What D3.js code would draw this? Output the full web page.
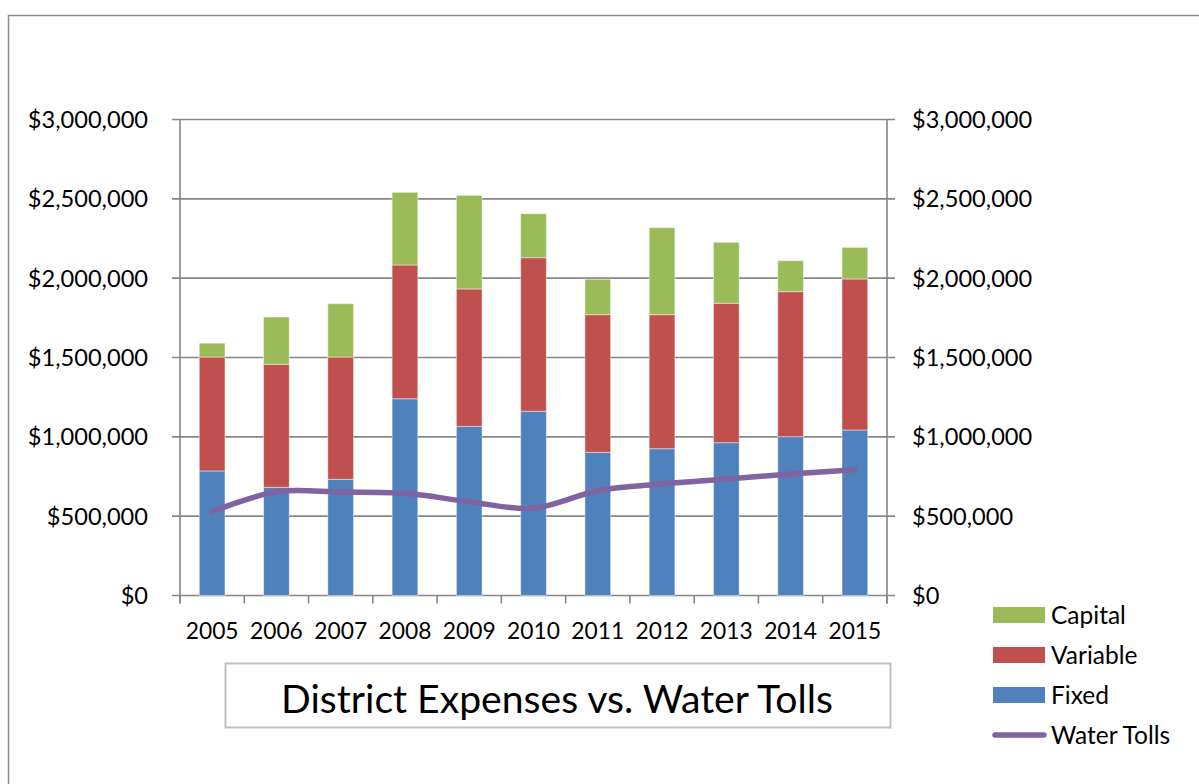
<!DOCTYPE html>
<html>
<head>
<meta charset="utf-8">
<script src="https://cdn.jsdelivr.net/npm/d3@7"></script>
<style>
  html, body { margin: 0; padding: 0; background: #ffffff; }
  svg { display: block; }
  text { font-family: Lato, "Open Sans", sans-serif; fill: #000; }
</style>
</head>
<body>
<svg id="chart" width="1199" height="784"></svg>
<script>
const years = ["2005","2006","2007","2008","2009","2010","2011","2012","2013","2014","2015"];
const fixed    = [785000, 682000, 732000, 1240000, 1066000, 1161000, 902000, 925000, 963000, 1001000, 1043000];
const variable = [718000, 775000, 771000, 843000, 866000, 968000, 868000, 845000, 879000, 914000, 952000];
const capital  = [87000, 298000, 336000, 458000, 590000, 277000, 223000, 548000, 384000, 195000, 199000];
const waterTolls = [528000, 654000, 652000, 644000, 591000, 550000, 660000, 703000, 734000, 766000, 793000];
const yTicks = [0, 500000, 1000000, 1500000, 2000000, 2500000, 3000000];
const seriesNames = ["Fixed", "Variable", "Capital"];
const legendNames = ["Capital", "Variable", "Fixed", "Water Tolls"];
const chartTitle = "District Expenses vs. Water Tolls";

const colors = { Fixed: "#4F81BD", Variable: "#C0504D", Capital: "#9BBB59", "Water Tolls": "#8064A2" };
const axisColor = "#868686";

const svg = d3.select("#chart");

// outer chart-area border
svg.append("rect").attr("x", 8.5).attr("y", 15.5).attr("width", 1300).attr("height", 900)
  .attr("fill", "none").attr("stroke", "#8c8c8c").attr("stroke-width", 1.5);

const plot = { left: 180, right: 887, top: 119.5, bottom: 595.5 };

const xCat = d3.scaleBand().domain(years).range([plot.left, plot.right]);
const y = d3.scaleLinear().domain([0, 3000000]).range([plot.bottom, plot.top]);

const fmt = v => "$" + d3.format(",")(v);

// gridlines (extend as outward ticks on both sides)
svg.append("g").selectAll("line").data(yTicks).join("line")
  .attr("x1", plot.left - 8).attr("x2", plot.right + 8)
  .attr("y1", d => y(d)).attr("y2", d => y(d))
  .attr("stroke", axisColor).attr("stroke-width", 1.6);

// stacked bars
const rows = years.map((yr, i) => ({ year: yr, Fixed: fixed[i], Variable: variable[i], Capital: capital[i] }));
const stack = d3.stack().keys(seriesNames)(rows);
const barW = 25.7;
svg.append("g").selectAll("g").data(stack).join("g")
  .attr("fill", d => colors[d.key])
  .selectAll("rect").data(d => d).join("rect")
  .attr("x", d => xCat(d.data.year) + xCat.bandwidth() / 2 - barW / 2)
  .attr("width", barW)
  .attr("y", d => y(d[1]))
  .attr("height", d => y(d[0]) - y(d[1]))
  .attr("stroke", "#ffffff").attr("stroke-opacity", 0.45).attr("stroke-width", 1);

// axes lines
svg.append("line").attr("x1", plot.left).attr("x2", plot.left).attr("y1", plot.top).attr("y2", plot.bottom + 8)
  .attr("stroke", axisColor).attr("stroke-width", 1.6);
svg.append("line").attr("x1", plot.right).attr("x2", plot.right).attr("y1", plot.top).attr("y2", plot.bottom + 8)
  .attr("stroke", axisColor).attr("stroke-width", 1.6);

// x axis category boundary ticks
const bounds = years.map(d => xCat(d)).concat([plot.right]);
svg.append("g").selectAll("line").data(bounds).join("line")
  .attr("x1", d => d).attr("x2", d => d)
  .attr("y1", plot.bottom).attr("y2", plot.bottom + 8)
  .attr("stroke", axisColor).attr("stroke-width", 1.6);

// y labels left & right
svg.append("g").selectAll("text").data(yTicks).join("text")
  .attr("x", 148).attr("y", d => y(d)).attr("dy", "0.36em")
  .attr("text-anchor", "end").attr("font-size", 23.6).text(fmt);
svg.append("g").selectAll("text").data(yTicks).join("text")
  .attr("x", 912).attr("y", d => y(d)).attr("dy", "0.36em")
  .attr("text-anchor", "start").attr("font-size", 23.6).text(fmt);

// x labels
svg.append("g").selectAll("text").data(years).join("text")
  .attr("x", d => xCat(d) + xCat.bandwidth() / 2).attr("y", 638.5)
  .attr("text-anchor", "middle").attr("font-size", 22.8).text(d => d);

// water tolls line
const line = d3.line()
  .x((d, i) => xCat(years[i]) + xCat.bandwidth() / 2)
  .y(d => y(d))
  .curve(d3.curveCatmullRom.alpha(0.5));
svg.append("path").datum(waterTolls).attr("d", line)
  .attr("fill", "none").attr("stroke", colors["Water Tolls"]).attr("stroke-width", 5.5)
  .attr("stroke-linecap", "round").attr("stroke-linejoin", "round");

// title box
svg.append("rect").attr("x", 225.5).attr("y", 663.5).attr("width", 665).attr("height", 64)
  .attr("fill", "#fff").attr("stroke", "#c0c0c0").attr("stroke-width", 2);
const title = svg.append("text").attr("x", 557).attr("y", 713)
  .attr("text-anchor", "middle").attr("font-size", 36).text(chartTitle);
const tw = title.node().getComputedTextLength();
title.attr("font-size", 36 * 552 / tw);

// legend
const lg = svg.append("g");
const legendY = [615, 655, 695, 735];
legendNames.forEach((name, i) => {
  const cy = legendY[i];
  if (name === "Water Tolls") {
    lg.append("line").attr("x1", 995).attr("x2", 1044).attr("y1", cy).attr("y2", cy)
      .attr("stroke", colors[name]).attr("stroke-width", 5.5).attr("stroke-linecap", "round");
  } else {
    lg.append("rect").attr("x", 993).attr("y", cy - 8).attr("width", 52).attr("height", 16)
      .attr("fill", colors[name]);
  }
  lg.append("text").attr("x", 1051).attr("y", cy + 8.5).attr("font-size", 24.5).text(name);
});
</script>
</body>
</html>
